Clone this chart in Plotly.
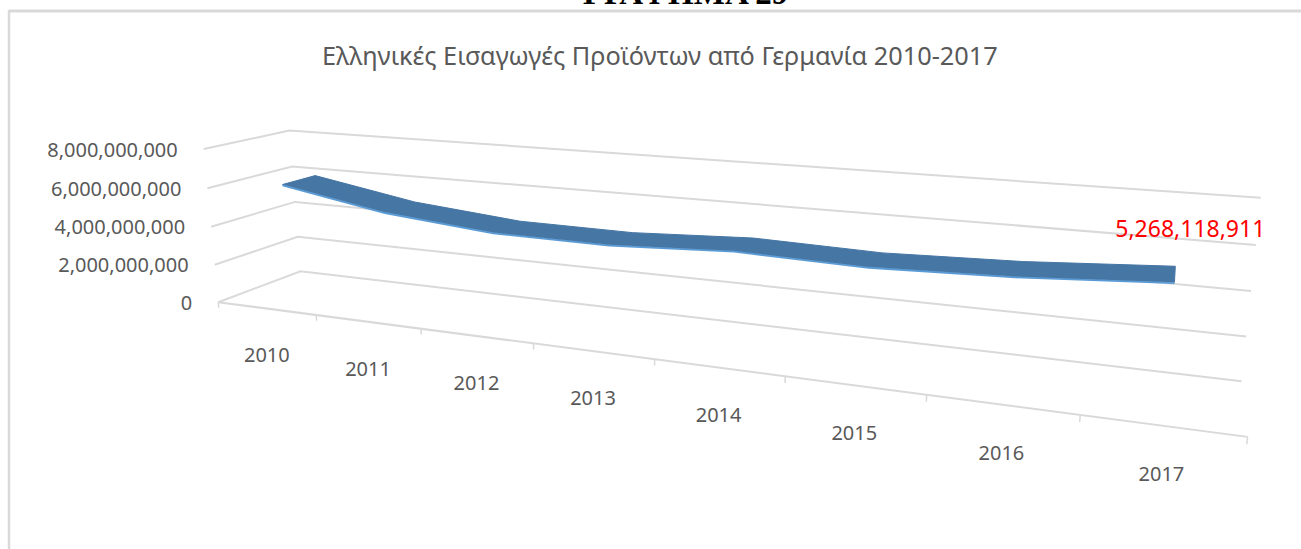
import numpy as np
import plotly.graph_objects as go

years = ["2010", "2011", "2012", "2013", "2014", "2015", "2016", "2017"]
imports_eur = [6.05e9, 5.10e9, 4.60e9, 4.55e9, 4.83e9, 4.69e9, 4.88e9, 5268118911]
value_ticks = [0, 2e9, 4e9, 6e9, 8e9]
value_labels = ["0", "2,000,000,000", "4,000,000,000", "6,000,000,000", "8,000,000,000"]
title = "Ελληνικές Εισαγωγές Προϊόντων από Γερμανία 2010-2017"
peak_label = "5,268,118,911"

# Perspective camera of the 3-D chart: (category, depth, value in bn) -> picture
CAMERA = np.array([[87.4604, 109.87256, -2.54535, 218.23378],
                   [2.40528, -5.89874, -19.67989, 302.19408],
                   [-0.03303, 0.09208, -0.00359, 1.0]])
DEPTH_FRONT, DEPTH_BACK = 0.3, 0.7


def project(cat, depth, value):
    h = CAMERA @ np.array([cat, depth, value / 1e9, 1.0])
    return float(h[0] / h[2]), float(h[1] / h[2])


def path(points):
    xy = [project(*p) for p in points]
    return [a for a, _ in xy], [b for _, b in xy]


GRID = "#d9d9d9"
TEXT = "#595959"
n = len(years)
fig = go.Figure()


def add_line(points, color=GRID, width=2):
    x, y = path(points)
    fig.add_trace(go.Scatter(x=x, y=y, mode="lines", line=dict(color=color, width=width),
                             hoverinfo="skip", showlegend=False))


# walls: value gridlines on the side wall and the back wall
for v in value_ticks:
    add_line([(0, 0, v), (0, 1, v), (n, 1, v)])
# floor front edge and category ticks
add_line([(0, 0, 0), (n, 0, 0)])
for i in range(n + 1):
    add_line([(i, 0, 0), (i, 0, -0.3e9)], width=1.5)

# ribbon of the series
cats = [i + 0.5 for i in range(n)]
front = [(c, DEPTH_FRONT, v) for c, v in zip(cats, imports_eur)]
back = [(c, DEPTH_BACK, v) for c, v in zip(cats, imports_eur)]
rx, ry = path(front + back[::-1] + front[:1])
fig.add_trace(go.Scatter(x=rx, y=ry, mode="lines", fill="toself", fillcolor="#4676a4",
                         line=dict(color="#4676a4", width=1), hoverinfo="skip", showlegend=False))
fx, fy = path(front)
fig.add_trace(go.Scatter(x=fx, y=[b + 0.8 for b in fy], mode="lines",
                         line=dict(color="#5b9bd5", width=1.8),
                         customdata=imports_eur, hovertemplate="%{customdata:,.0f}<extra></extra>",
                         showlegend=False))

# value labels
vx, vy = path([(0, 0, v) for v in value_ticks])
fig.add_trace(go.Scatter(x=[a - 26 for a in vx], y=[b + 2.5 for b in vy], mode="text", text=value_labels,
                         textposition="middle left", textfont=dict(family="Noto Sans", size=20, color=TEXT),
                         hoverinfo="skip", showlegend=False))
# category labels
cx, cy = path([(c, 0, -0.3e9) for c in cats])
fig.add_trace(go.Scatter(x=cx, y=[b + 43 for b in cy], mode="text", text=years,
                         textposition="middle center", textfont=dict(family="Noto Sans", size=20, color=TEXT),
                         hoverinfo="skip", showlegend=False))
# data label of the last point
lx, ly = project(cats[-1], DEPTH_BACK, imports_eur[-1])
fig.add_trace(go.Scatter(x=[lx + 15], y=[ly - 35], mode="text", text=[peak_label],
                         textposition="middle center", textfont=dict(family="Noto Sans", size=23, color="#ff0000"),
                         hoverinfo="skip", showlegend=False))

fig.add_annotation(x=660, y=55, xref="x", yref="y", text=title, showarrow=False,
                   font=dict(family="Noto Sans", size=25.3, color=TEXT))
fig.add_annotation(x=685, y=13, xref="x", yref="y", yanchor="bottom", text="<b>ΓΡΑΦΗΜΑ 29</b>", showarrow=False,
                   font=dict(family="Liberation Serif", size=33, color="#000000"))
# chart frame
fig.add_shape(type="line", x0=9, x1=1301, y0=11, y1=11, line=dict(color=GRID, width=3), layer="below")
fig.add_shape(type="line", x0=9, x1=9, y0=10, y1=549, line=dict(color=GRID, width=2.5), layer="below")

fig.update_layout(width=1301, height=549, margin=dict(l=0, r=0, t=0, b=0), autosize=False,
                  paper_bgcolor="white", plot_bgcolor="white", showlegend=False,
                  xaxis=dict(range=[0, 1301], visible=False),
                  yaxis=dict(range=[549, 0], visible=False))
fig.write_html("out.html", config=dict(displayModeBar=False),
               post_script="document.body.style.margin='0';document.body.style.overflow='hidden';")
